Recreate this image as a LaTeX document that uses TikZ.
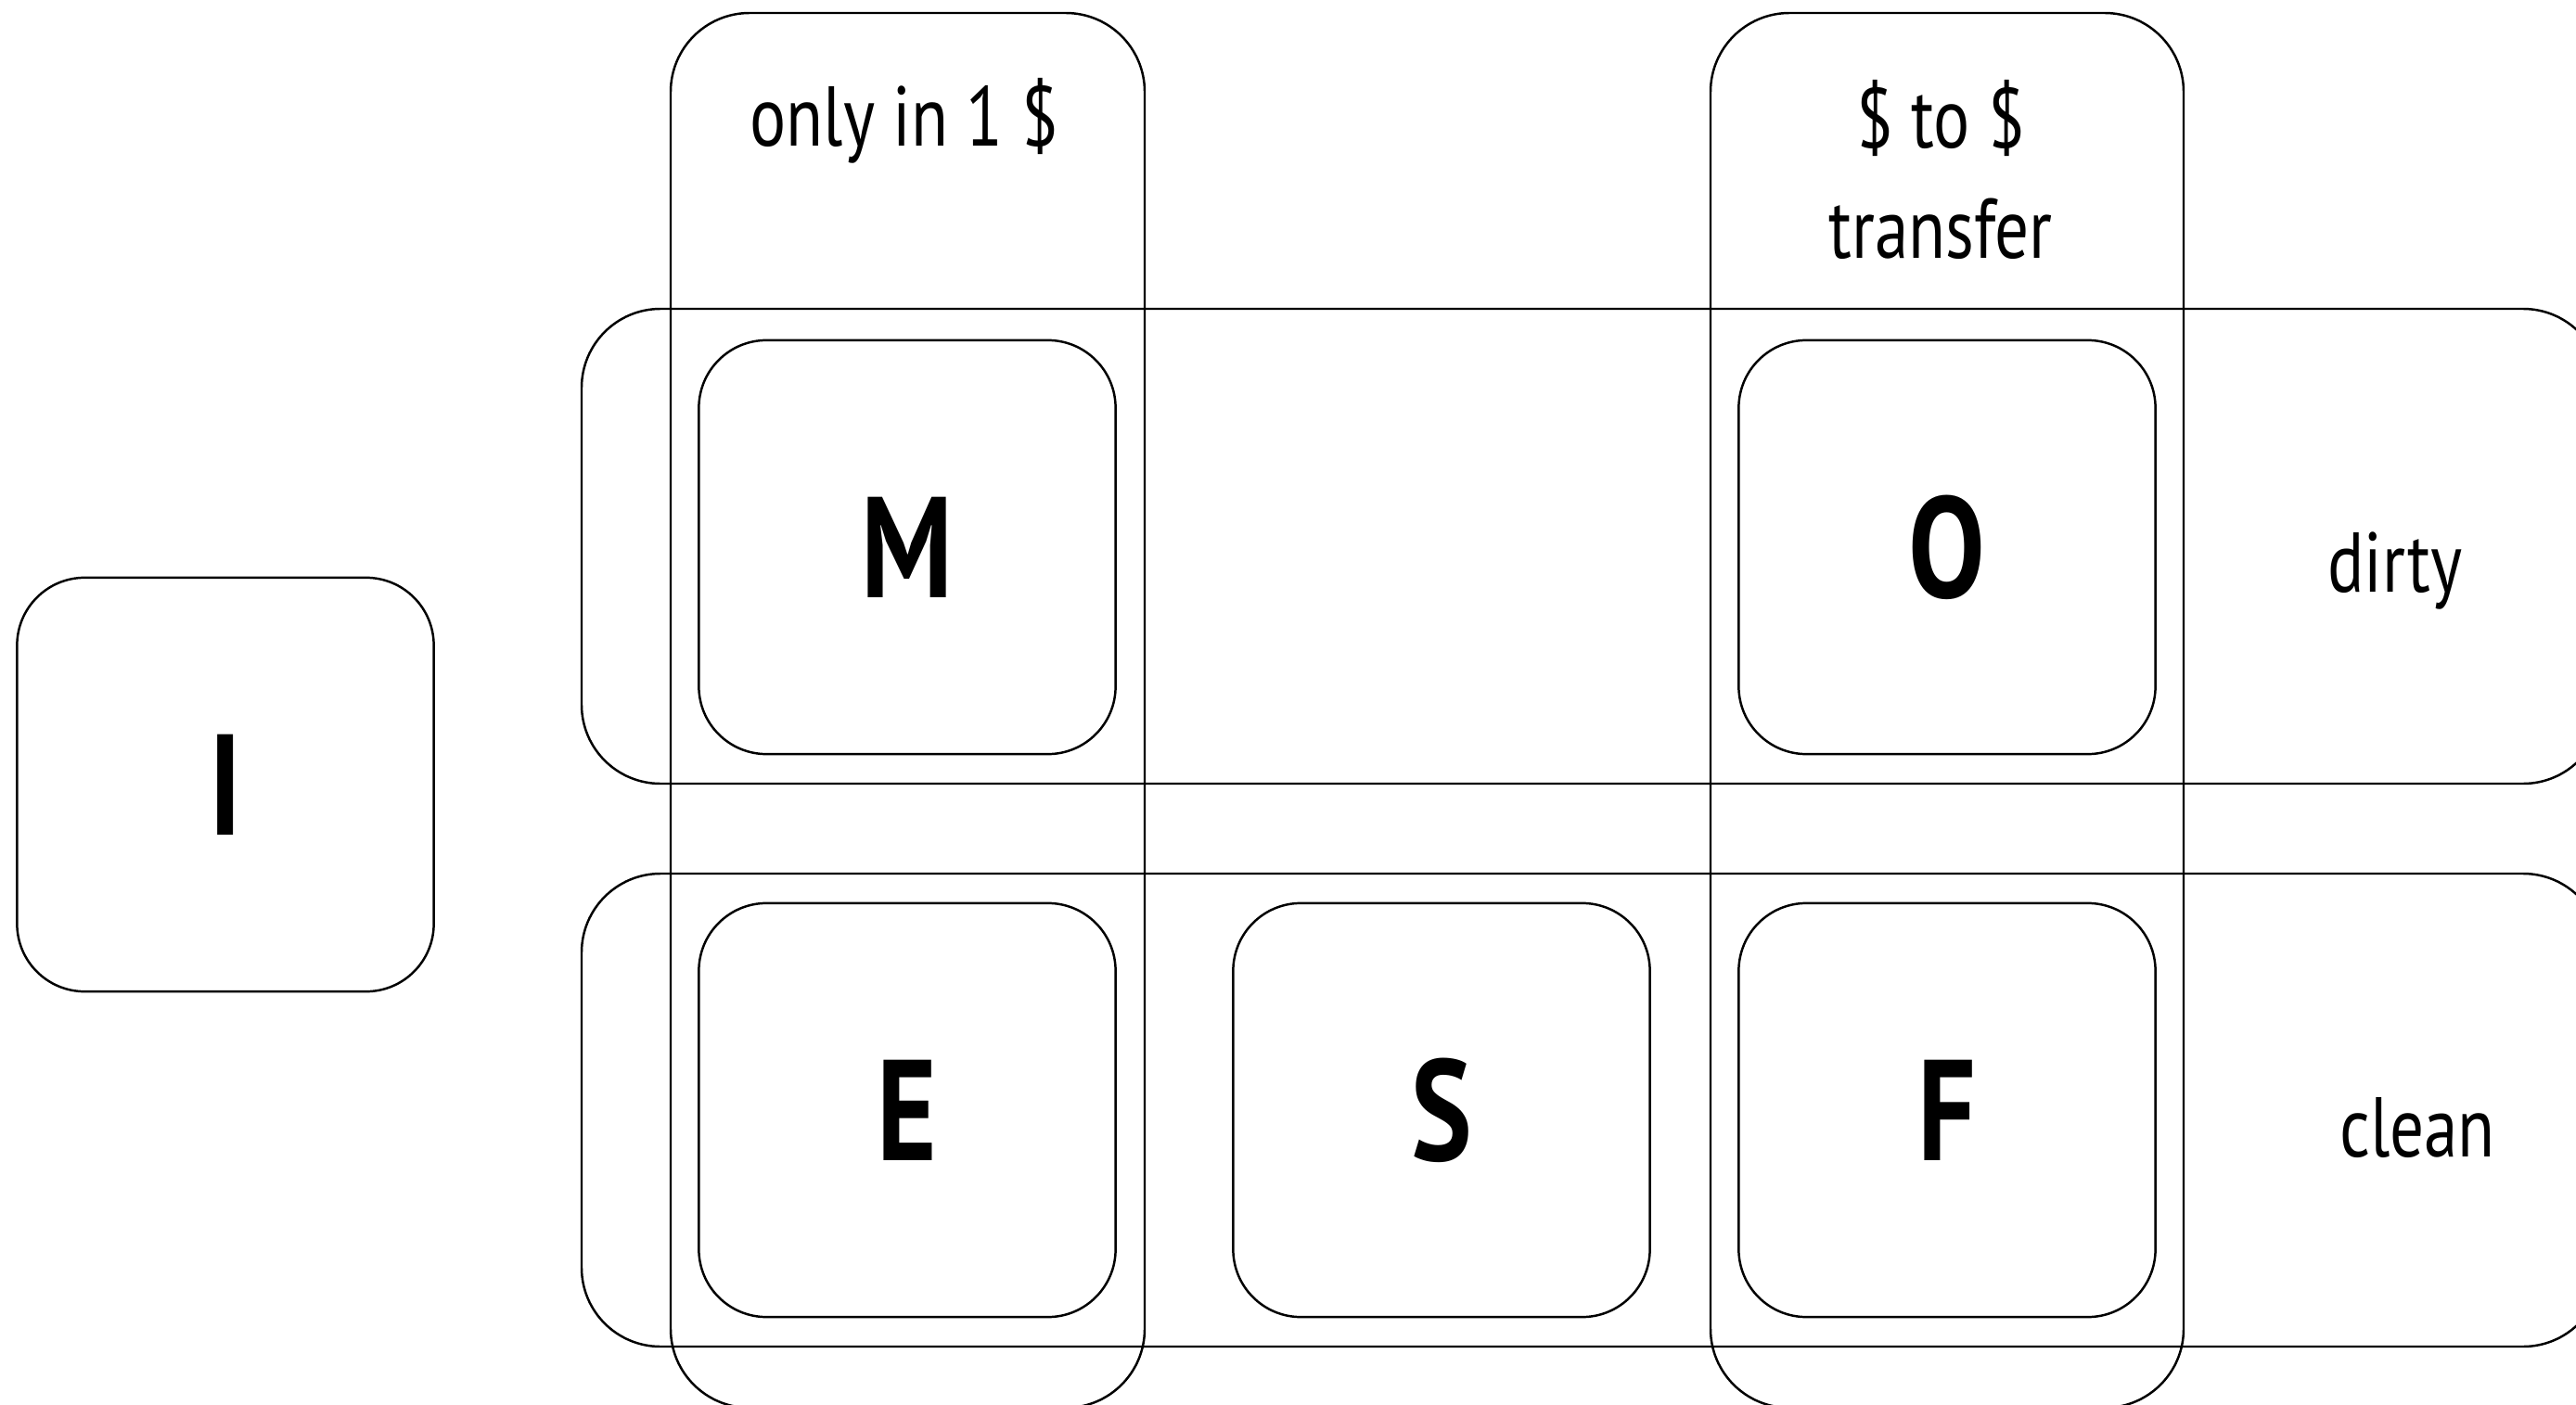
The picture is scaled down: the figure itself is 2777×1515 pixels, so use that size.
\documentclass[tikz,border=0pt]{standalone}
\usepackage{fontspec}
\setmainfont{PT Sans}[FakeStretch=0.8]

\begin{document}
\begin{tikzpicture}[
    x=0.01cm, y=-0.01cm, line width=0.7pt,
    state/.style={rectangle, draw, rounded corners=0.73cm, minimum width=4.49cm, minimum height=4.46cm, font=\fontsize{44}{44}\selectfont\bfseries},
    band/.style={draw, rounded corners=0.85cm},
    lbl/.style={draw=none, font=\fontsize{26}{34}\selectfont, align=center}
]
\useasboundingbox (0,0) rectangle (2777,1515);
\clip (0,0) rectangle (2777,1515);

% Rows
\draw[band] (627,333) rectangle (2805,845);
\draw[band] (627,942) rectangle (2805,1452);

% Columns
\draw[band] (723,14) rectangle (1234,1518);
\draw[band] (1844,14) rectangle (2354,1518);

% States
\node (I) at (243,846) [state] {I};
\node (M) at (978,590) [state] {M};
\node (O) at (2099,590) [state] {O};
\node (E) at (978,1197) [state] {E};
\node (S) at (1554,1197) [state] {S};
\node (F) at (2099,1197) [state] {F};

% Labels
\node (only) at (975,157) [lbl, anchor=base] {only in 1 \$};
\node (xfer) at (2092,183) [lbl] {\$ to \$\\transfer};
\node (dirty) at (2582,638) [lbl, anchor=base] {dirty};
\node (clean) at (2606,1247) [lbl, anchor=base] {clean};
\end{tikzpicture}
\end{document}
